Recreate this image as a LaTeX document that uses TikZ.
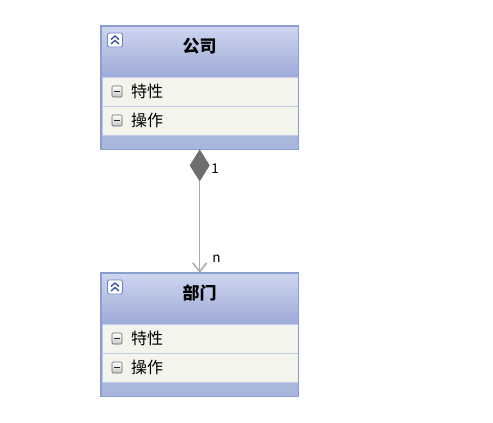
\documentclass[tikz,border=0pt]{standalone}
\usepackage{fontspec}
\setmainfont{Noto Sans CJK SC}
\usetikzlibrary{arrows.meta}

\definecolor{boxline}{HTML}{8C9DD0}
\definecolor{boxfoot}{HTML}{A9B6DE}
\definecolor{headtop}{HTML}{CDD5EE}
\definecolor{headbot}{HTML}{9DAAD8}
\definecolor{rowfill}{HTML}{F3F5EC}
\definecolor{rowline}{HTML}{BFCBE8}
\definecolor{linegray}{HTML}{ABABAB}
\definecolor{diafill}{HTML}{6E6E6E}
\definecolor{iconline}{HTML}{6F88C8}
\definecolor{iconmark}{HTML}{2F4F9F}

\tikzset{
  collapse/.pic={
    \draw[draw=iconline, fill=white, line width=0.8pt, rounded corners=1.5pt] (-7.5,-7) rectangle (7.5,7);
    \draw[draw=iconmark, line width=1.3pt] (-4,-0.5) -- (0,-4) -- (4,-0.5) (-4,4) -- (0,0.5) -- (4,4);
  },
  minusbox/.pic={
    \draw[draw=gray!80!black, top color=white, bottom color=gray!45, line width=0.7pt, rounded corners=1pt] (-5,-5.5) rectangle (5,5.5);
    \draw[draw=gray!30!black, line width=1.2pt] (-3,0) -- (3,0);
  },
}

\begin{document}
\begin{tikzpicture}[x=1pt, y=-1pt,
    classbox/.style={fill=boxfoot, minimum width=197pt, minimum height=123pt, anchor=north west, inner sep=0pt},
    frame/.style={draw=boxline, line width=1.3pt},
    classhead/.style={top color=headtop, bottom color=headbot, minimum width=196pt, minimum height=51pt, anchor=north west, inner sep=0pt},
    classrow/.style={fill=rowfill, draw=rowline, line width=0.8pt, minimum width=196pt, minimum height=29pt, anchor=north west, inner sep=0pt},
    title/.style={font=\fontsize{17}{17}\selectfont\bfseries},
    member/.style={font=\fontsize{16}{16}\selectfont, anchor=west, inner sep=0pt},
    mult/.style={font=\fontsize{13.5}{13.5}\selectfont, anchor=west, inner sep=0pt},
    assoc/.style={draw=linegray, line width=1.5pt,
      {Diamond[length=32pt, width=20pt, fill=diafill, color=diafill]}-{Straight Barb[length=9pt, width=14pt]}},
  ]
  \useasboundingbox (0,0) rectangle (493,423);

  % Class box: company
  \node (company) [classbox] at (101,26) {};
  \node (company-head) [classhead] at (101.5,26.5) {};
  \node (company-attr) [classrow] at (101.5,77) {};
  \node (company-op) [classrow] at (101.5,106) {};
  \draw[frame] (company.north west) rectangle (company.south east);
  \node (company-name) [title] at (199.5,46) {公司};
  \pic at (115,40) {collapse};
  \pic at (117,91.5) {minusbox};
  \pic at (117,120.5) {minusbox};
  \node (company-attr-text) [member] at (131,91.5) {特性};
  \node (company-op-text) [member] at (131,120.5) {操作};

  % Class box: department
  \node (dept) [classbox] at (101,273) {};
  \node (dept-head) [classhead] at (101.5,273.5) {};
  \node (dept-attr) [classrow] at (101.5,324) {};
  \node (dept-op) [classrow] at (101.5,353) {};
  \draw[frame] (dept.north west) rectangle (dept.south east);
  \node (dept-name) [title] at (199.5,293) {部门};
  \pic at (115,287) {collapse};
  \pic at (117,338.5) {minusbox};
  \pic at (117,367.5) {minusbox};
  \node (dept-attr-text) [member] at (131,338.5) {特性};
  \node (dept-op-text) [member] at (131,367.5) {操作};

  % Composition
  \draw[assoc] (company.south) -- (dept.north)
    node[mult, pos=0.155, xshift=11pt] {1}
    node[mult, pos=0.885, xshift=12pt] {n};
\end{tikzpicture}
\end{document}
